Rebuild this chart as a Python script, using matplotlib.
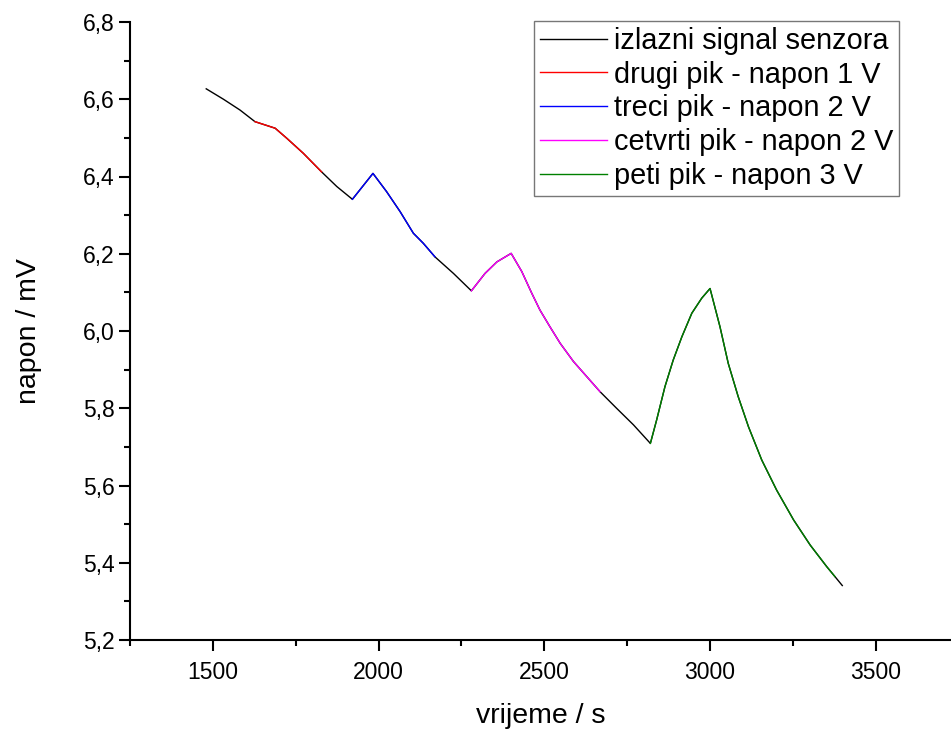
import numpy as np
import matplotlib
matplotlib.use('Agg')
import matplotlib.pyplot as plt
from matplotlib.ticker import MultipleLocator, FuncFormatter

plt.rcParams['font.family'] = ['Liberation Sans', 'DejaVu Sans']

# output signal (time in s, voltage in mV)
signal_t = [1480, 1532, 1582, 1627, 1688, 1723, 1773, 1828, 1874, 1921,
            1983, 2024, 2065, 2105, 2135, 2170, 2226, 2280,
            2321, 2357, 2400, 2432, 2462, 2487, 2517, 2548, 2588, 2628, 2668,
            2718, 2769, 2820,
            2839, 2864, 2889, 2915, 2945, 2975, 3000, 3030, 3055, 3085, 3116,
            3156, 3201, 3252, 3302, 3352, 3377, 3399]
signal_u = [6.627, 6.600, 6.572, 6.542, 6.525, 6.499, 6.460, 6.412, 6.374, 6.341,
            6.408, 6.361, 6.309, 6.253, 6.227, 6.192, 6.149, 6.104,
            6.149, 6.179, 6.201, 6.154, 6.098, 6.054, 6.011, 5.968, 5.921, 5.882, 5.843,
            5.800, 5.757, 5.709,
            5.770, 5.856, 5.925, 5.985, 6.046, 6.085, 6.110, 6.011, 5.916, 5.830, 5.752,
            5.666, 5.588, 5.511, 5.446, 5.390, 5.364, 5.341]

# peaks: label, colour, time window
peak_labels = ['drugi pik - napon 1 V', 'treci pik - napon 2 V',
               'cetvrti pik - napon 2 V', 'peti pik - napon 3 V']
peak_colors = ['#ff0000', '#0000ff', '#ff00ff', '#008000']
peak_start = [1627, 1921, 2280, 2820]
peak_end = [1828, 2170, 2668, 3377]

t = np.array(signal_t)
u = np.array(signal_u)

fig = plt.figure(figsize=(9.51, 7.31), dpi=100)
ax = fig.add_axes([130 / 951, 91 / 731, 821 / 951, 618 / 731])

ax.plot(t, u, color='black', lw=1.0, label='izlazni signal senzora')
for lab, col, t0, t1 in zip(peak_labels, peak_colors, peak_start, peak_end):
    m = (t >= t0) & (t <= t1)
    ax.plot(t[m], u[m], color=col, lw=1.0, label=lab)

ax.set_xlim(1250, 3727)
ax.set_ylim(5.2, 6.8)
ax.xaxis.set_major_locator(MultipleLocator(500))
ax.xaxis.set_minor_locator(MultipleLocator(250))
ax.yaxis.set_major_locator(MultipleLocator(0.2))
ax.yaxis.set_minor_locator(MultipleLocator(0.1))
ax.yaxis.set_major_formatter(FuncFormatter(lambda v, p: ('%.1f' % v).replace('.', ',')))

for s in ['top', 'right']:
    ax.spines[s].set_visible(False)
for s in ['left', 'bottom']:
    ax.spines[s].set_linewidth(1.5)

ax.tick_params(which='major', direction='out', length=8, width=1.5, labelsize=16.5)
ax.tick_params(axis='y', which='major', pad=3)
ax.tick_params(axis='x', which='major', pad=7)
ax.tick_params(which='minor', direction='out', length=4.5, width=1.5)

ax.set_xlabel('vrijeme / s', fontsize=20.5)
ax.set_ylabel('napon / mV', fontsize=20.5)
ax.xaxis.set_label_coords(0.5, -0.102)
ax.yaxis.set_label_coords(-0.107, 0.5)

leg = ax.legend(loc='upper right', bbox_to_anchor=(899 / 951, 710 / 731),
                bbox_transform=fig.transFigure, borderaxespad=0, fontsize=20.8,
                frameon=True, fancybox=False, edgecolor='#555555',
                handlelength=2.3, handletextpad=0.25, labelspacing=0.2,
                borderpad=0.2)
leg.get_frame().set_linewidth(1.0)

fig.savefig('out.png', dpi=100)
